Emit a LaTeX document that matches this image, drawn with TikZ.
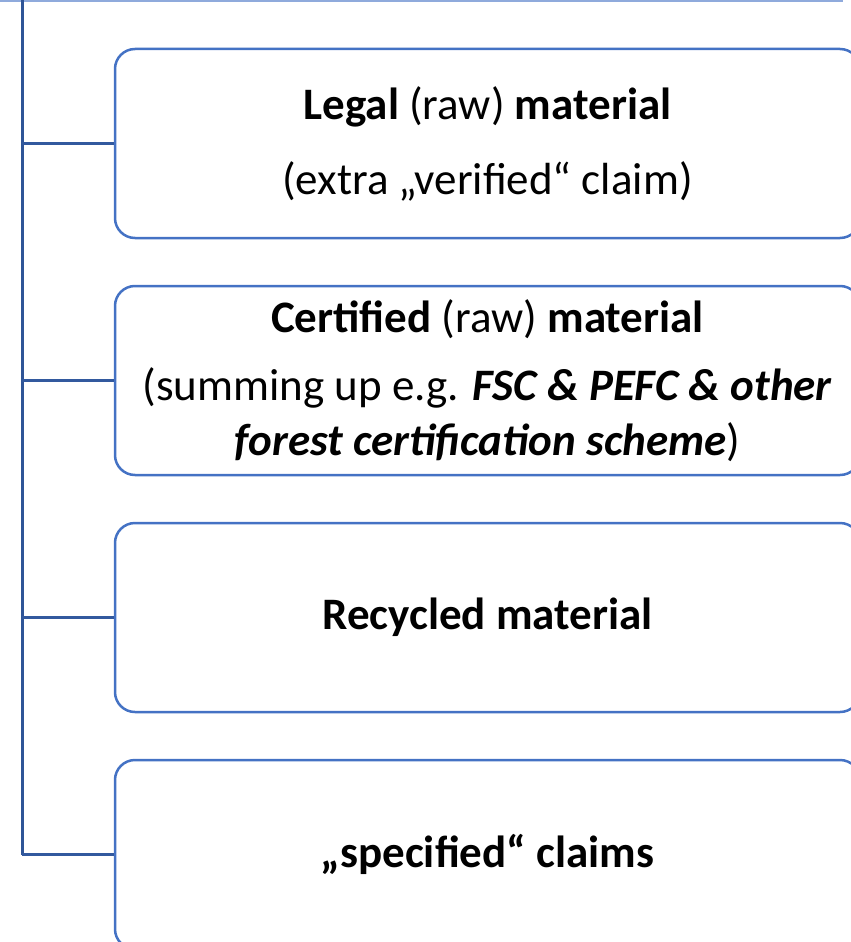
\documentclass[tikz,border=0pt]{standalone}
\usepackage{fontspec}
\setmainfont{Carlito}
\usepackage{tikz}
\usetikzlibrary{positioning}
\definecolor{trunkColor}{RGB}{47,85,151}
\definecolor{boxColor}{RGB}{68,114,196}
\definecolor{topColor}{RGB}{143,170,220}

\begin{document}
\begin{tikzpicture}[x=1pt, y=-1pt]

            \tikzstyle{claimBox} = [draw=boxColor, line width=2.5pt, rounded corners=20pt,
                                    minimum width=745pt, minimum height=189pt, inner sep=0pt,
                                    align=center, font=\fontsize{45}{55}\selectfont];
            \tikzstyle{trunkEdge} = [trunkColor, line width=3pt];
            \tikzstyle{branchEdge} = [trunkColor!85!boxColor, line width=2.7pt];

            \useasboundingbox (0,0) rectangle (851,942);
            \clip (0,0) rectangle (851,942);

            % cut-off edge at the top
            \draw[topColor, line width=2pt] (0,1) -- (843,1);

            \coordinate (root) at (22,0);

            \node[claimBox] (legal) at (487.5,143.5)
                {\textbf{Legal} (raw) \textbf{material}\\[20pt]
                 (extra „verified“ claim)};
            \node[claimBox] (certified) at (487.5,380.5)
                {\textbf{Certified} (raw) \textbf{material}\\[13pt]
                 (summing up e.g. \textbf{\textit{FSC \& PEFC \& other}}\\
                 \textbf{\textit{forest certification scheme}})};
            \node[claimBox] (recycled) at (487.5,617.5)
                {\textbf{Recycled material}};
            \node[claimBox] (specified) at (487.5,854.5)
                {\textbf{„specified“ claims}};

            \coordinate (end) at (root |- specified.west);

            \draw[trunkEdge] (root) -- (end);
            \draw[branchEdge] (root |- legal.west) -- (legal.west);
            \draw[branchEdge] (root |- certified.west) -- (certified.west);
            \draw[branchEdge] (root |- recycled.west) -- (recycled.west);
            \draw[branchEdge] (end) -- (specified.west);
          \end{tikzpicture}
\end{document}
